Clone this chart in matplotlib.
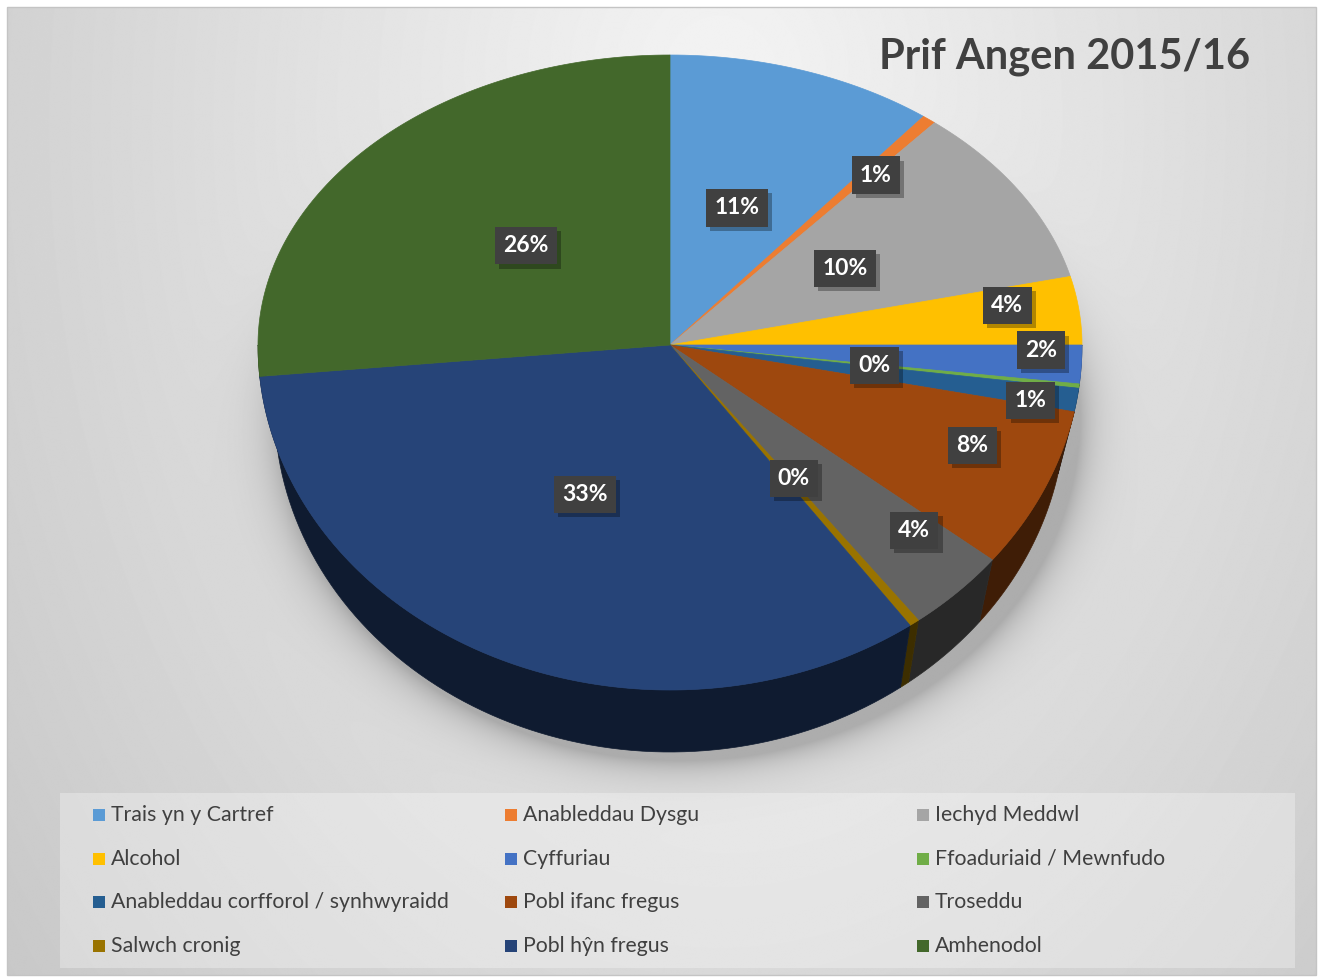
import numpy as np
import matplotlib.pyplot as plt
from matplotlib.patches import Polygon, Rectangle
from matplotlib import patheffects
import matplotlib.colors as mcolors

# data (share of cases, %), clockwise from 12 o'clock
categories = ['Trais yn y Cartref', 'Anableddau Dysgu', 'Iechyd Meddwl',
              'Alcohol', 'Cyffuriau', 'Ffoaduriaid / Mewnfudo',
              'Anableddau corfforol / synhwyraidd', 'Pobl ifanc fregus',
              'Troseddu', 'Salwch cronig', 'Pobl hŷn fregus', 'Amhenodol']
shares = [10.55, 0.55, 10.1, 3.8, 1.8, 0.2, 1.1, 7.6, 4.0, 0.4, 33.45, 26.45]
colors = ['#5B9BD5', '#ED7D31', '#A5A5A5', '#FFC000', '#4472C4', '#70AD47',
          '#255E91', '#9E480E', '#636363', '#997300', '#264478', '#43682B']

# label placement (fraction of radius, angular nudge in degrees)
label_r = [0.5, 0.77, 0.5, 0.83, 0.9, 0.5, 0.89, 0.79, 0.8, 0.49, 0.48, 0.49]
label_nudge = [0, 1.5, 0, -2.6, -2.3, 0, 1.2, -3.2, -3.5, -1.5, 1, 2]

W, H = 1323, 977
fig = plt.figure(figsize=(W / 100, H / 100), dpi=100)
ax = fig.add_axes([0, 0, 1, 1])
ax.set_xlim(0, W)
ax.set_ylim(H, 0)
ax.axis('off')

FONT = ['Lato', 'DejaVu Sans']

# pie geometry in pixels (fake 3D: tilted top, extruded wall)
cx, cy = 670, 345
rx, ry_up, ry_dn = 412, 290, 345
depth = 62
shrink = 0.96


def rim(t, r=1.0, drop=0.0, sx=1.0):
    s, c = np.sin(t), np.cos(t)
    ry = np.where(c > 0, ry_up, ry_dn)
    return cx + r * sx * rx * s, cy + drop - r * ry * c


# background gradient + soft shadow under the pie
yy, xx = np.mgrid[0:H, 0:W].astype(float)
d = np.sqrt(((xx - 720) / 900) ** 2 + ((yy - 120) / 1300) ** 2)
bg = 0.96 - 0.17 * d
sy = np.where(yy < cy + depth + 8, ry_up, ry_dn)
rho = np.sqrt(((xx - cx - 10) / (rx * 0.98)) ** 2 + ((yy - cy - depth - 8) / sy) ** 2)
bg = bg - 0.2 * np.exp(-np.clip(rho - 1, 0, None) / 0.05)
ax.imshow(np.clip(bg, 0, 1), cmap='gray', vmin=0, vmax=1,
          extent=(7, W - 7, H - 2, 7), zorder=0, aspect='auto')
ax.add_patch(Rectangle((7, 7), W - 14, H - 9, fill=False,
                       edgecolor='#c4c4c4', lw=1, zorder=1))

# slice angles
fr = np.array(shares) / np.sum(shares)
ends = np.cumsum(fr) * 2 * np.pi
starts = ends - fr * 2 * np.pi

# walls (front half only)
for a1, a2, col in zip(starts, ends, colors):
    lo, hi = max(a1, np.pi / 2), min(a2, 1.5 * np.pi)
    if hi <= lo:
        continue
    t = np.linspace(lo, hi, 80)
    xt, yt = rim(t)
    xb, yb = rim(t[::-1], drop=depth, sx=shrink)
    dark = tuple(np.array(mcolors.to_rgb(col)) * 0.4)
    ax.add_patch(Polygon(np.column_stack([np.r_[xt, xb], np.r_[yt, yb]]),
                         closed=True, facecolor=dark, edgecolor=dark,
                         lw=0.5, zorder=3))

# top face
for a1, a2, col in zip(starts, ends, colors):
    t = np.linspace(a1, a2, max(int((a2 - a1) * 60), 4))
    xt, yt = rim(t)
    pts = np.column_stack([np.r_[cx, xt], np.r_[cy, yt]])
    ax.add_patch(Polygon(pts, closed=True, facecolor=col, edgecolor=col,
                         lw=0.5, zorder=4))

# data labels
for a1, a2, v, r, nd in zip(starts, ends, shares, label_r, label_nudge):
    tm = (a1 + a2) / 2 + np.radians(nd)
    lx, ly = rim(tm, r=r)
    lab = ax.text(lx, ly, f'{int(np.round(v))}%', ha='center', va='center',
                  fontsize=16.5, fontweight='bold', color='white', family=FONT,
                  bbox=dict(boxstyle='square,pad=0.36', facecolor='#404040',
                            edgecolor='#404040', lw=0), zorder=6)
    lab.get_bbox_patch().set_path_effects([
        patheffects.withSimplePatchShadow(offset=(3, -3), shadow_rgbFace='black',
                                          alpha=0.3),
        patheffects.Normal()])

# title
ax.text(1250, 57, 'Prif Angen 2015/16', ha='right', va='center',
        fontsize=30, fontweight='bold', color='#404040', family=FONT, zorder=6)

# legend (row-major, 3 columns)
ax.add_patch(Rectangle((60, 793), 1235, 175, facecolor='white', alpha=0.3,
                       lw=0, zorder=1))
for i, (name, col) in enumerate(zip(categories, colors)):
    row, c = divmod(i, 3)
    x0 = 93 + c * 412
    y0 = 815 + row * 43.7
    ax.add_patch(Rectangle((x0, y0 - 6), 12, 12, facecolor=col, lw=0, zorder=6))
    ax.text(x0 + 18, y0, name, ha='left', va='center', fontsize=15.3,
            color='#404040', family=FONT, zorder=6)

fig.savefig('out.png', dpi=100, facecolor='white')
